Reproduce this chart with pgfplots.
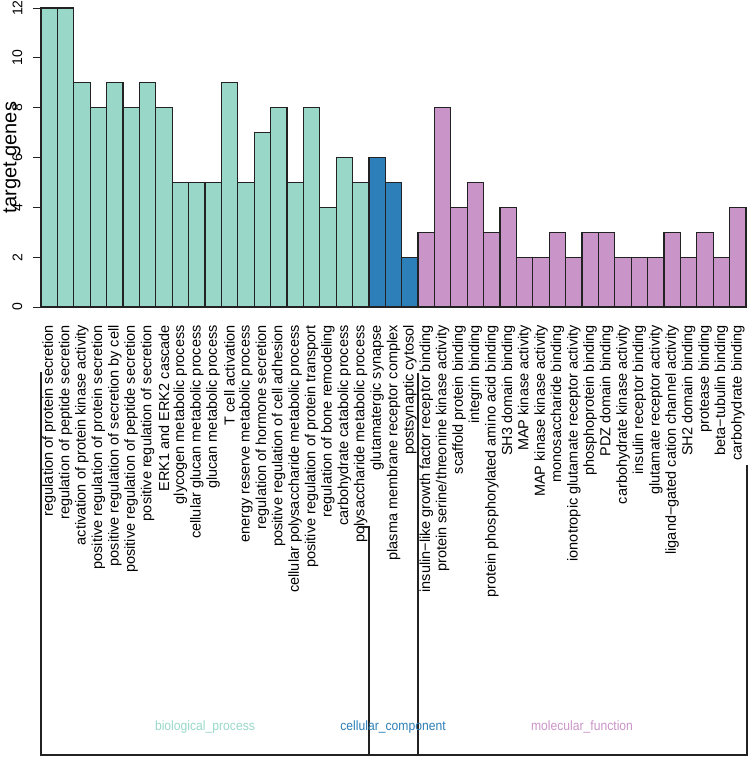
\documentclass[border=0pt]{standalone}
\usepackage{pgfplots}
\pgfplotsset{compat=1.18}
\usepackage{fontspec}
\usepackage{graphicx}
\setmainfont{Liberation Sans}
\definecolor{bpc}{HTML}{99D8C9}
\definecolor{ccc}{HTML}{2C7FB8}
\definecolor{mfc}{HTML}{C994C7}
\definecolor{edge}{HTML}{222222}
\begin{document}
\begin{tikzpicture}
\path[use as bounding box] (0,0) rectangle (750bp,-758bp);
\begin{axis}[
  at={(41bp,-307bp)}, anchor=south west,
  scale only axis, width=705bp, height=299bp,
  xmin=0, xmax=43, ymin=0, ymax=12,
  axis x line*=bottom, axis y line*=left,
  axis line style={draw=none},
  clip=false,
  ytick={0,2,4,6,8,10,12},
  yticklabels={\rotatebox{90}{0},\rotatebox{90}{2},\rotatebox{90}{4},\rotatebox{90}{6},\rotatebox{90}{8},\rotatebox{90}{10},\rotatebox{90}{12}},
  tick align=outside,
  ytick style={edge, line width=1bp},
  major tick length=8bp,
  xtick style={draw=none},
  yticklabel style={font=\fontsize{14bp}{14bp}\selectfont, anchor=east, inner sep=0pt, xshift=-10.5bp},
  xtick={0.5,1.5,2.5,3.5,4.5,5.5,6.5,7.5,8.5,9.5,10.5,11.5,12.5,13.5,14.5,15.5,16.5,17.5,18.5,19.5,20.5,21.5,22.5,23.5,24.5,25.5,26.5,27.5,28.5,29.5,30.5,31.5,32.5,33.5,34.5,35.5,36.5,37.5,38.5,39.5,40.5,41.5,42.5},
  xticklabels={regulation of protein secretion,regulation of peptide secretion,activation of protein kinase activity,positive regulation of protein secretion,positive regulation of secretion by cell,positive regulation of peptide secretion,positive regulation of secretion,ERK1 and ERK2 cascade,glycogen metabolic process,cellular glucan metabolic process,glucan metabolic process,T cell activation,energy reserve metabolic process,regulation of hormone secretion,positive regulation of cell adhesion,cellular polysaccharide metabolic process,positive regulation of protein transport,regulation of bone remodeling,carbohydrate catabolic process,polysaccharide metabolic process,glutamatergic synapse,plasma membrane receptor complex,postsynaptic cytosol,insulin−like growth factor receptor binding,protein serine/threonine kinase activity,scaffold protein binding,integrin binding,protein phosphorylated amino acid binding,SH3 domain binding,MAP kinase activity,MAP kinase kinase activity,monosaccharide binding,ionotropic glutamate receptor activity,phosphoprotein binding,PDZ domain binding,carbohydrate kinase activity,insulin receptor binding,glutamate receptor activity,ligand−gated cation channel activity,SH2 domain binding,protease binding,beta−tubulin binding,carbohydrate binding},
  xticklabel style={font=\fontsize{14.5bp}{14.5bp}\selectfont, yshift=-10bp, rotate=90, anchor=east, inner sep=0pt},
  ylabel={target genes},
  every axis y label/.style={at={(axis description cs:-0.041,0.5)}, rotate=90, anchor=center, font=\fontsize{20bp}{20bp}\selectfont},
]
\addplot[ybar, bar width=1, bar shift=0pt, fill=bpc, draw=edge, line width=1.2bp] coordinates {
(0.5,12) (1.5,12) (2.5,9) (3.5,8) (4.5,9) (5.5,8) (6.5,9) (7.5,8) (8.5,5) (9.5,5)
(10.5,5) (11.5,9) (12.5,5) (13.5,7) (14.5,8) (15.5,5) (16.5,8) (17.5,4) (18.5,6) (19.5,5)};
\addplot[ybar, bar width=1, bar shift=0pt, fill=ccc, draw=edge, line width=1.2bp] coordinates {
(20.5,6) (21.5,5) (22.5,2)};
\addplot[ybar, bar width=1, bar shift=0pt, fill=mfc, draw=edge, line width=1.2bp] coordinates {
(23.5,3) (24.5,8) (25.5,4) (26.5,5) (27.5,3) (28.5,4) (29.5,2) (30.5,2) (31.5,3) (32.5,2)
(33.5,3) (34.5,3) (35.5,2) (36.5,2) (37.5,2) (38.5,3) (39.5,2) (40.5,3) (41.5,2) (42.5,4)};
\end{axis}
\draw[edge, line width=1.1bp] (41bp,-372bp) -- (41bp,-755bp) -- (747bp,-755bp) -- (747bp,-465bp);
\draw[edge, line width=1.1bp] (358bp,-527bp) -- (369bp,-527bp) -- (369bp,-755bp);
\draw[edge, line width=1.1bp] (418bp,-373bp) -- (418bp,-755bp);
\node[text=bpc, font=\fontsize{13.5bp}{13.5bp}\selectfont] at (205bp,-727bp) {\scalebox{0.9}[1]{biological\_process}};
\node[text=ccc, font=\fontsize{13.5bp}{13.5bp}\selectfont] at (393bp,-727bp) {\scalebox{0.9}[1]{cellular\_component}};
\node[text=mfc, font=\fontsize{13.5bp}{13.5bp}\selectfont] at (582bp,-727bp) {\scalebox{0.9}[1]{molecular\_function}};
\end{tikzpicture}
\end{document}
